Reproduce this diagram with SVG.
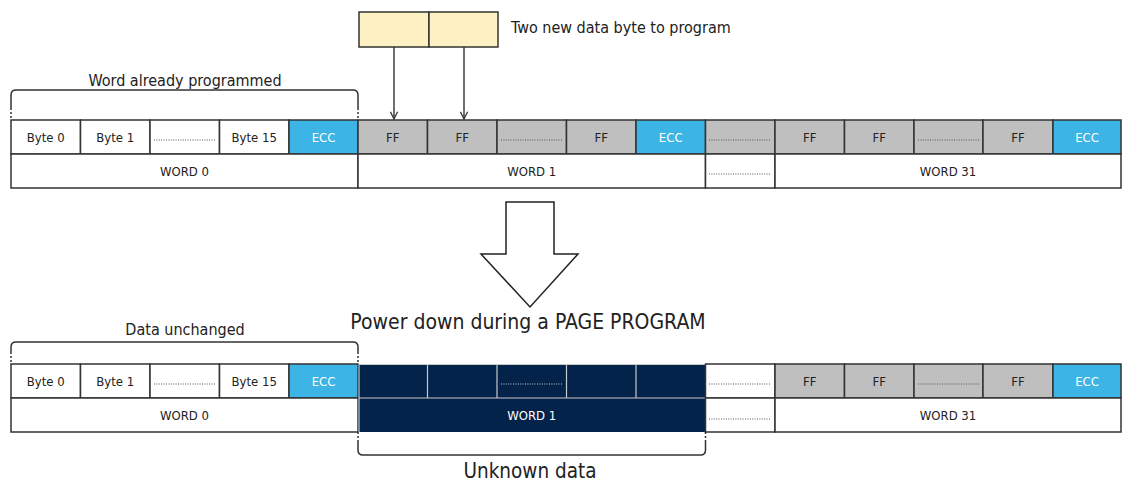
<svg xmlns="http://www.w3.org/2000/svg" width="1122" height="482" viewBox="0 0 1122 482">
<style>
.c{stroke:#333;stroke-width:1.5}
.w{fill:#fff}.g{fill:#bfbfbf}.b{fill:#3cb4e6}.y{fill:#fdf1c3}
.t{font-family:"DejaVu Sans Condensed","DejaVu Sans",sans-serif;font-size:13px;fill:#222;text-anchor:middle}
.te{fill:#fff}
.tl{font-family:"DejaVu Sans Condensed","DejaVu Sans",sans-serif;fill:#222}
.d{stroke:#555;stroke-width:1;stroke-dasharray:1 1.4;fill:none}
.dl{stroke:#ccc;stroke-width:1;stroke-dasharray:1 1.4;fill:none}
.br{fill:none;stroke:#333;stroke-width:1.5}
.bd{fill:none;stroke:#333;stroke-width:1.5;stroke-dasharray:2 2}
.dk{fill:#04234a}
.dkl{stroke:#c8c8c8;stroke-width:1.2;fill:none}
</style>
<defs>
<marker id="ah" viewBox="0 0 10 10" refX="9" refY="5" markerWidth="9" markerHeight="9" orient="auto" markerUnits="userSpaceOnUse">
<path d="M1 1 L9 5 L1 9" fill="none" stroke="#333" stroke-width="1.4"/>
</marker>
</defs>

<!-- Top labels -->
<g id="new-bytes">
<rect class="c y" x="359" y="12" width="70" height="35"/>
<rect class="c y" x="429" y="12" width="69" height="35"/>
<text class="tl" x="511" y="33" font-size="16">Two new data byte to program</text>
</g>

<g id="brace-top">
<text class="tl" x="185" y="86" font-size="16" text-anchor="middle">Word already programmed</text>
<path class="br" d="M11 108 V95 Q11 90 16 90 H353 Q358 90 358 95 V108"/>
<path class="bd" d="M11 108 V120 M358 108 V120"/>
</g>

<!-- Top row: WORD 0 -->
<g id="top-word0">
<rect class="c w" x="11" y="120" width="69.5" height="34"/><text class="t" x="45.7" y="141.7">Byte 0</text>
<rect class="c w" x="80.5" y="120" width="69.5" height="34"/><text class="t" x="115.2" y="141.7">Byte 1</text>
<rect class="c w" x="150" y="120" width="69.5" height="34"/><path class="d" d="M154 140 H215"/>
<rect class="c w" x="219.5" y="120" width="69.5" height="34"/><text class="t" x="254.2" y="141.7">Byte 15</text>
<rect class="c b" x="289" y="120" width="69" height="34"/><text class="t te" x="323.5" y="141.7">ECC</text>
<rect class="c w" x="11" y="154" width="347" height="34"/><text class="t" x="184.5" y="175.5">WORD 0</text>
</g>

<g id="top-word1">
<rect class="c g" x="358" y="120" width="69.5" height="34"/><text class="t" x="392.7" y="141.7">FF</text>
<rect class="c g" x="427.5" y="120" width="69.5" height="34"/><text class="t" x="462.2" y="141.7">FF</text>
<rect class="c g" x="497" y="120" width="69.5" height="34"/><path class="d" d="M501 140 H562"/>
<rect class="c g" x="566.5" y="120" width="69.5" height="34"/><text class="t" x="601.2" y="141.7">FF</text>
<rect class="c b" x="636" y="120" width="69.5" height="34"/><text class="t te" x="670.7" y="141.7">ECC</text>
<rect class="c w" x="358" y="154" width="347.5" height="34"/><text class="t" x="531.7" y="175.5">WORD 1</text>
</g>

<g id="top-middle">
<rect class="c g" x="705.5" y="120" width="69.5" height="34"/><path class="d" d="M709 140 H771"/>
<rect class="c w" x="705.5" y="154" width="69.5" height="34"/><path class="d" d="M709 174 H771"/>
</g>

<g id="top-word31">
<rect class="c g" x="775" y="120" width="69.5" height="34"/><text class="t" x="809.7" y="141.7">FF</text>
<rect class="c g" x="844.5" y="120" width="69.5" height="34"/><text class="t" x="879.2" y="141.7">FF</text>
<rect class="c g" x="914" y="120" width="69" height="34"/><path class="d" d="M918 140 H979"/>
<rect class="c g" x="983" y="120" width="70" height="34"/><text class="t" x="1018" y="141.7">FF</text>
<rect class="c b" x="1053" y="120" width="68" height="34"/><text class="t te" x="1087" y="141.7">ECC</text>
<rect class="c w" x="775" y="154" width="346" height="34"/><text class="t" x="948" y="175.5">WORD 31</text>
</g>

<g id="connectors">
<line x1="394" y1="47" x2="394" y2="119" stroke="#333" stroke-width="1.4" marker-end="url(#ah)"/>
<line x1="464" y1="47" x2="464" y2="119" stroke="#333" stroke-width="1.4" marker-end="url(#ah)"/>
</g>

<g id="big-arrow">
<path d="M506 202 H554 V254 H578 L530 307 L481 254 H506 Z" fill="#fff" stroke="#222" stroke-width="1.5"/>
<text class="tl" x="528" y="329" font-size="21" text-anchor="middle">Power down during a PAGE PROGRAM</text>
</g>

<g id="brace-bottom">
<text class="tl" x="185" y="335" font-size="16" text-anchor="middle">Data unchanged</text>
<path class="br" d="M11 352 V347 Q11 342 16 342 H353 Q358 342 358 347 V352"/>
<path class="bd" d="M11 352 V364 M358 352 V364"/>
</g>

<g id="bottom-word0">
<rect class="c w" x="11" y="364" width="69.5" height="34"/><text class="t" x="45.7" y="385.7">Byte 0</text>
<rect class="c w" x="80.5" y="364" width="69.5" height="34"/><text class="t" x="115.2" y="385.7">Byte 1</text>
<rect class="c w" x="150" y="364" width="69.5" height="34"/><path class="d" d="M154 384 H215"/>
<rect class="c w" x="219.5" y="364" width="69.5" height="34"/><text class="t" x="254.2" y="385.7">Byte 15</text>
<rect class="c b" x="289" y="364" width="69" height="34"/><text class="t te" x="323.5" y="385.7">ECC</text>
<rect class="c w" x="11" y="398" width="347" height="34"/><text class="t" x="184.5" y="419.5">WORD 0</text>
</g>

<g id="bottom-word1">
<rect class="dk" x="358" y="364" width="347.5" height="68"/>
<path class="dkl" d="M359 364.5 H705 M359 398 H705 M427.5 364 V398 M497 364 V398 M566.5 364 V398 M636 364 V398 M359 364 V432"/>
<path class="dl" d="M501 384 H562"/>
<text class="t te" x="531.7" y="419.5" fill="#e6e6e6">WORD 1</text>
</g>

<g id="bottom-middle">
<rect class="c w" x="705.5" y="364" width="69.5" height="34"/><path class="d" d="M709 384 H771"/>
<rect class="c w" x="705.5" y="398" width="69.5" height="34"/><path class="d" d="M709 419 H771"/>
</g>

<g id="bottom-word31">
<rect class="c g" x="775" y="364" width="69.5" height="34"/><text class="t" x="809.7" y="385.7">FF</text>
<rect class="c g" x="844.5" y="364" width="69.5" height="34"/><text class="t" x="879.2" y="385.7">FF</text>
<rect class="c g" x="914" y="364" width="69" height="34" stroke-width="2"/><path class="d" d="M918 384 H979"/>
<rect class="c g" x="983" y="364" width="70" height="34"/><text class="t" x="1018" y="385.7">FF</text>
<rect class="c b" x="1053" y="364" width="68" height="34"/><text class="t te" x="1087" y="385.7">ECC</text>
<rect class="c w" x="775" y="398" width="346" height="34"/><text class="t" x="948" y="419.5">WORD 31</text>
</g>

<g id="brace-unknown">
<path class="bd" d="M358 432 V442 M705.5 432 V442"/>
<path class="br" d="M358 442 V450 Q358 455 363 455 H700.5 Q705.5 455 705.5 450 V442"/>
<text class="tl" x="530" y="478" font-size="20.5" text-anchor="middle">Unknown data</text>
</g>
</svg>
